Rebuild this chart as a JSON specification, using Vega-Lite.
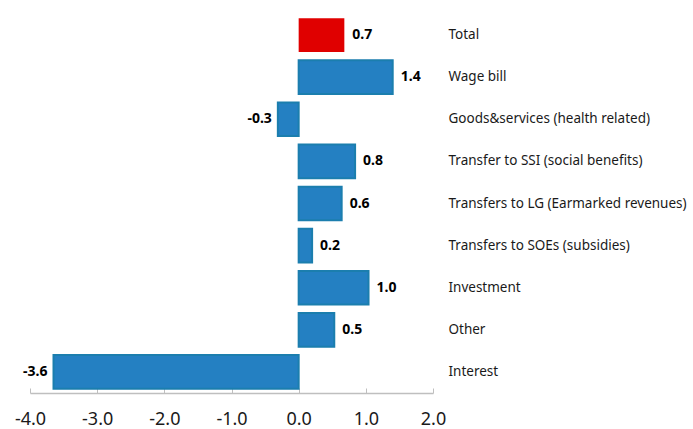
{
  "$schema": "https://vega.github.io/schema/vega-lite/v6.json",
  "autosize": "none",
  "width": 403,
  "height": 379,
  "padding": {"left": 30, "top": 14, "right": 260, "bottom": 36},
  "background": "white",
  "config": {
    "view": {"stroke": null},
    "font": "Noto Sans",
    "locale": {"number": {"decimal": ".", "thousands": ",", "grouping": [3], "currency": ["$", ""], "minus": "-"}}
  },
  "data": {"values": [
    {"category": "Total", "value": 0.68, "kind": "total"},
    {"category": "Wage bill", "value": 1.40, "kind": "item"},
    {"category": "Goods&services (health related)", "value": -0.31, "kind": "item"},
    {"category": "Transfer to SSI (social benefits)", "value": 0.84, "kind": "item"},
    {"category": "Transfers to LG (Earmarked revenues)", "value": 0.64, "kind": "item"},
    {"category": "Transfers to SOEs (subsidies)", "value": 0.20, "kind": "item"},
    {"category": "Investment", "value": 1.04, "kind": "item"},
    {"category": "Other", "value": 0.53, "kind": "item"},
    {"category": "Interest", "value": -3.65, "kind": "item"}
  ]},
  "encoding": {
    "y": {"field": "category", "type": "nominal", "sort": null,
      "scale": {"paddingInner": 0.2, "paddingOuter": 0.1}},
    "x": {"field": "value", "type": "quantitative",
      "scale": {"domain": [-4, 2], "nice": false, "zero": false}}
  },
  "layer": [
    {
      "mark": {"type": "bar", "strokeWidth": 2},
      "encoding": {
        "y": {"field": "category", "type": "nominal", "sort": null,
          "axis": {"orient": "right", "title": null, "domain": false, "ticks": false,
            "labelPadding": 15, "labelFontSize": 13.5, "labelColor": "#1a1a1a",
            "labelAlign": "left", "labelFont": "Noto Sans", "labelLimit": 300}},
        "x": {"field": "value", "type": "quantitative",
          "axis": {"title": null, "values": [-4, -3, -2, -1, 0, 1, 2], "format": ".1f",
            "grid": false, "domainColor": "#bfbfbf", "domainWidth": 1.5, "tickColor": "#bfbfbf",
            "tickSize": -5, "tickWidth": 1, "labelFontSize": 18, "labelColor": "#1a1a1a",
            "labelPadding": 22, "labelFlush": false, "labelFont": "Noto Sans"}},
        "color": {"field": "kind", "type": "nominal", "legend": null,
          "scale": {"domain": ["total", "item"], "range": ["#e00000", "#2480c2"]}},
        "stroke": {"field": "kind", "type": "nominal", "legend": null,
          "scale": {"domain": ["total", "item"], "range": ["#e00000", "#1b7eae"]}},
        "strokeOpacity": {"field": "kind", "type": "nominal", "legend": null,
          "scale": {"domain": ["total", "item"], "range": [0, 1]}}
      }
    },
    {
      "mark": {"type": "rule", "color": "#bfbfbf", "strokeWidth": 1.5},
      "encoding": {"x": {"datum": 0}}
    },
    {
      "transform": [{"filter": "datum.value >= 0"}],
      "mark": {"type": "text", "align": "left", "baseline": "middle", "dx": 8,
        "fontWeight": "bold", "fontSize": 14, "color": "#000000"},
      "encoding": {"text": {"field": "value", "type": "quantitative", "format": ".1f"}}
    },
    {
      "transform": [{"filter": "datum.value < 0"}],
      "mark": {"type": "text", "align": "right", "baseline": "middle", "dx": -6,
        "fontWeight": "bold", "fontSize": 14, "color": "#000000"},
      "encoding": {"text": {"field": "value", "type": "quantitative", "format": ".1f"}}
    }
  ]
}
